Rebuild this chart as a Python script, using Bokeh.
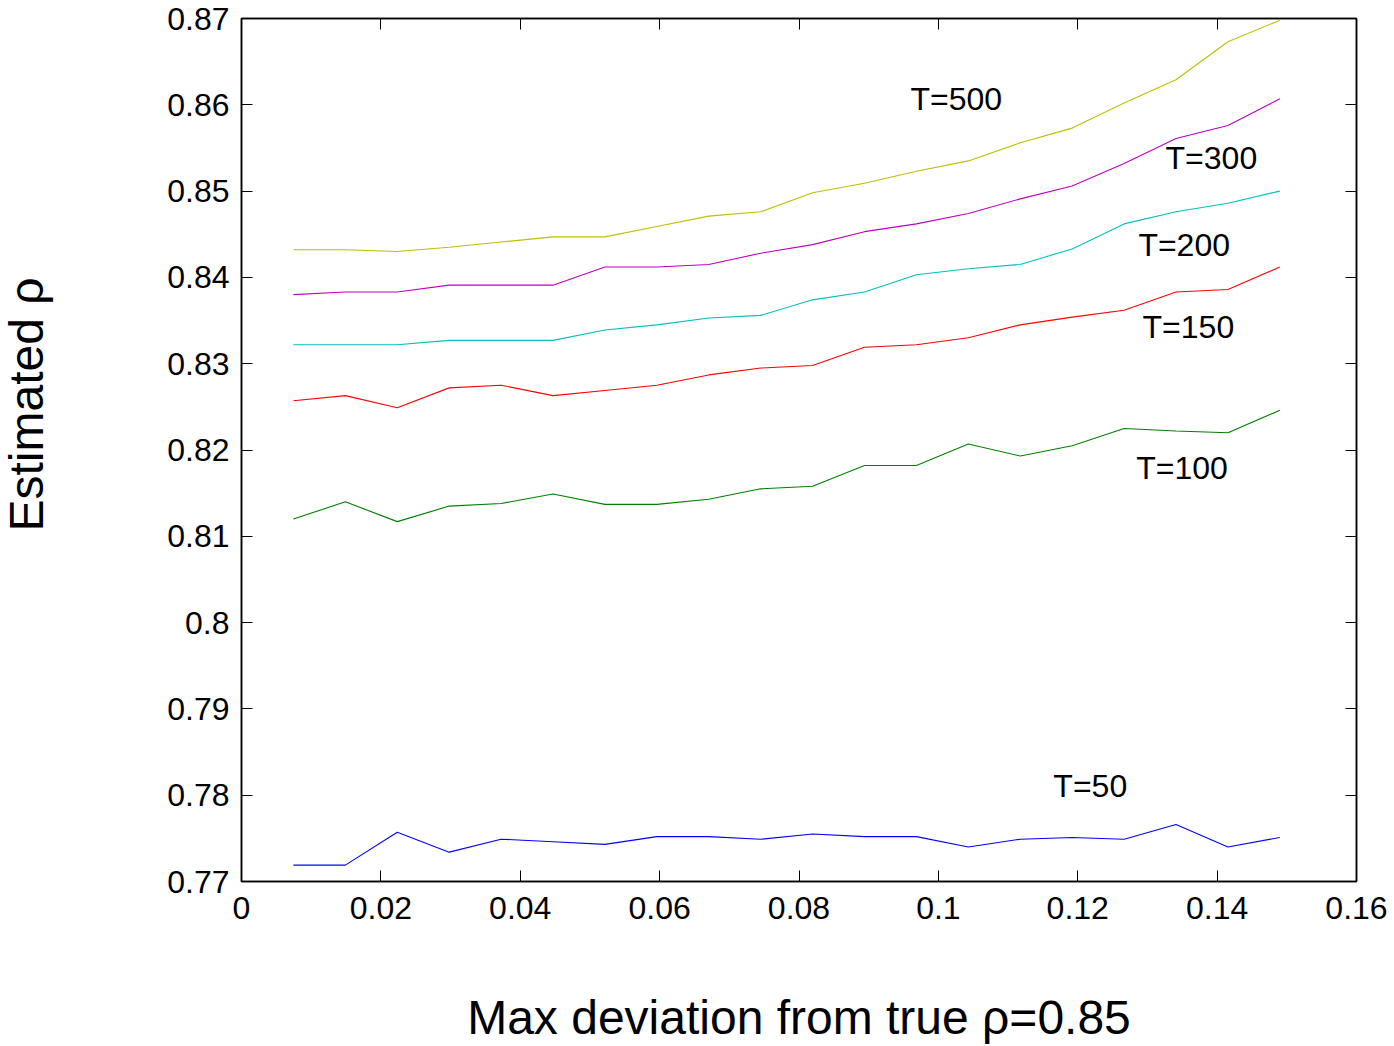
import math
from bokeh.plotting import figure
from bokeh.models import LinearAxis, FixedTicker, Range1d, ColumnDataSource, LabelSet, Label
from bokeh.core.properties import value
from bokeh.embed import file_html
from bokeh.resources import INLINE

# ---------------- data ----------------
max_dev = [0.00745, 0.0149, 0.02235, 0.0298, 0.03725, 0.0447, 0.05215, 0.0596,
           0.06705, 0.0745, 0.08195, 0.0894, 0.09685, 0.1043, 0.11175, 0.1192,
           0.12665, 0.1341, 0.14155, 0.149]

rho_T500 = [0.8432, 0.8432, 0.8430, 0.8435, 0.8441, 0.8447, 0.8447, 0.8459, 0.8471, 0.8476,
            0.8498, 0.8509, 0.8523, 0.8535, 0.8556, 0.8573, 0.8602, 0.8629, 0.8673, 0.8698]
rho_T300 = [0.8380, 0.8383, 0.8383, 0.8391, 0.8391, 0.8391, 0.8412, 0.8412, 0.8415, 0.8428,
            0.8438, 0.8453, 0.8462, 0.8474, 0.8491, 0.8506, 0.8532, 0.8561, 0.8576, 0.8607]
rho_T200 = [0.8322, 0.8322, 0.8322, 0.8327, 0.8327, 0.8327, 0.8339, 0.8345, 0.8353, 0.8356,
            0.8374, 0.8383, 0.8403, 0.8410, 0.8415, 0.8433, 0.8462, 0.8476, 0.8486, 0.8500]
rho_T150 = [0.8257, 0.8263, 0.8249, 0.8272, 0.8275, 0.8263, 0.8269, 0.8275, 0.8287, 0.8295,
            0.8298, 0.8319, 0.8322, 0.8330, 0.8345, 0.8354, 0.8362, 0.8383, 0.8386, 0.8412]
rho_T100 = [0.8120, 0.8140, 0.8117, 0.8135, 0.8138, 0.8149, 0.8137, 0.8137, 0.8143, 0.8155,
            0.8158, 0.8182, 0.8182, 0.8207, 0.8193, 0.8205, 0.8225, 0.8222, 0.8220, 0.8246]
rho_T50 = [0.7719, 0.7719, 0.7757, 0.7734, 0.7749, 0.7746, 0.7743, 0.7752, 0.7752, 0.7749,
           0.7755, 0.7752, 0.7752, 0.7740, 0.7749, 0.7751, 0.7749, 0.7766, 0.7740, 0.7751]

series_names = ["T=500", "T=300", "T=200", "T=150", "T=100", "T=50"]

x_ticks = [0.0, 0.02, 0.04, 0.06, 0.08, 0.1, 0.12, 0.14, 0.16]
x_tick_labels = ["0", "0.02", "0.04", "0.06", "0.08", "0.1", "0.12", "0.14", "0.16"]
y_ticks = [0.77, 0.78, 0.79, 0.8, 0.81, 0.82, 0.83, 0.84, 0.85, 0.86, 0.87]
y_tick_labels = ["0.77", "0.78", "0.79", "0.8", "0.81", "0.82", "0.83", "0.84", "0.85", "0.86", "0.87"]

x_title = "Max deviation from true \u03c1=0.85"
y_title = "Estimated \u03c1"

# ---------------- layout / style ----------------
series_values = [rho_T500, rho_T300, rho_T200, rho_T150, rho_T100, rho_T50]
colors = ["#BFBF00", "#BF00BF", "#00BFBF", "#FF0000", "#008000", "#0000FF"]
# label anchor positions (left edge, vertical middle) in data coordinates
label_x = [0.0960, 0.1326, 0.1287, 0.1293, 0.1284, 0.1165]
label_y = [0.8607, 0.8538, 0.8438, 0.8342, 0.8179, 0.7811]

FONT = "Liberation Sans"

p = figure(width=1394, height=1046,
           x_range=Range1d(0, 0.16), y_range=Range1d(0.77, 0.87),
           output_backend="svg", toolbar_location=None,
           min_border_left=241, min_border_right=38,
           min_border_top=18, min_border_bottom=165,
           x_axis_label=x_title)

p.background_fill_color = "white"
p.border_fill_color = "white"
p.outline_line_color = "black"
p.outline_line_width = 1.5
p.xgrid.visible = False
p.ygrid.visible = False

for vals, col in zip(series_values, colors):
    p.line(max_dev, vals, line_color=col, line_width=1.1)

src = ColumnDataSource(dict(x=label_x, y=label_y, t=series_names))
p.add_layout(LabelSet(x="x", y="y", text="t", source=src,
                      text_font=value(FONT), text_font_size=value("32px"),
                      text_color="black",
                      text_align="left", text_baseline="middle"))

# y-axis title (placed like the original, slightly above the frame centre)
p.add_layout(Label(x=-85, y=477, x_units="screen", y_units="screen",
                   text=y_title, angle=math.pi / 2,
                   text_font=FONT, text_font_size="48px", text_color="black",
                   text_align="center", text_baseline="alphabetic"), "left")


def style_axis(ax, ticks, labels, show_labels=True):
    ax.ticker = FixedTicker(ticks=ticks)
    ax.major_label_overrides = {t: l for t, l in zip(ticks, labels)}
    ax.minor_tick_line_color = None
    ax.major_tick_in = 11
    ax.major_tick_out = 0
    ax.major_tick_line_color = "black"
    ax.major_tick_line_width = 1
    ax.axis_line_color = "black"
    ax.axis_line_width = 1.5
    ax.major_label_text_font = FONT
    ax.major_label_text_color = "black"
    if show_labels:
        ax.major_label_text_font_size = "32px"
    else:
        ax.major_label_text_font_size = "0px"
        ax.major_label_standoff = 0
    ax.axis_label_text_font = FONT
    ax.axis_label_text_font_size = "48px"
    ax.axis_label_text_font_style = "normal"
    ax.axis_label_text_color = "black"


style_axis(p.xaxis[0], x_ticks, x_tick_labels)
style_axis(p.yaxis[0], y_ticks, y_tick_labels)
p.xaxis[0].major_label_standoff = 15
p.yaxis[0].major_label_standoff = 12
p.xaxis[0].axis_label_standoff = 69

top_ax = LinearAxis()
style_axis(top_ax, x_ticks, ["" for _ in x_ticks], show_labels=False)
p.add_layout(top_ax, "above")
right_ax = LinearAxis()
style_axis(right_ax, y_ticks, ["" for _ in y_ticks], show_labels=False)
p.add_layout(right_ax, "right")

open("out.html", "w").write(file_html(p, INLINE))
